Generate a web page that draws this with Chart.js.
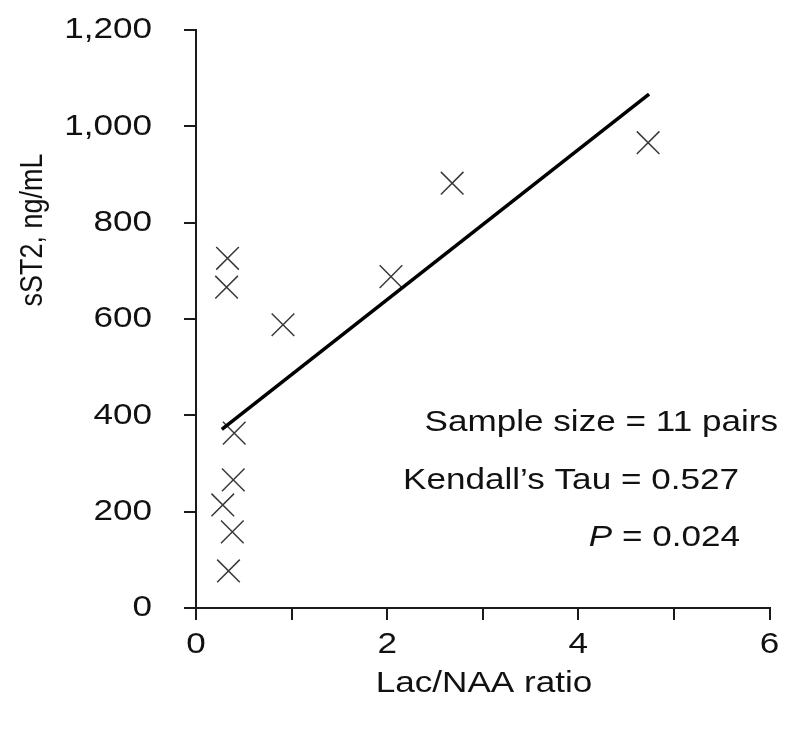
<!DOCTYPE html>
<html>
<head>
<meta charset="utf-8">
<script src="https://cdn.jsdelivr.net/npm/chart.js@4/dist/chart.umd.min.js"></script>
<style>
  html, body { margin: 0; padding: 0; background: #fff; }
  #wrap { width: 787px; height: 729px; }
</style>
</head>
<body>
<div id="wrap"><canvas id="c" width="787" height="729"></canvas></div>
<script>
// ---- data ----
const lacNaaRatio = [0.33, 0.32, 0.91, 2.04, 2.68, 4.73, 0.40, 0.39, 0.28, 0.38, 0.34];
const sST2Values  = [726, 666, 588, 688, 882, 966, 363, 266, 214, 158, 77];
const trendX = [0.27, 4.74];
const trendY = [371, 1067];
const xLabelTicks = [0, 2, 4, 6];
const xTitle = 'Lac/NAA ratio';
const yTitle = 'sST2, ng/mL';
const statLines = ['Sample size = 11 pairs', 'Kendall\u2019s Tau = 0.527'];
const pLabel = 'P';
const pValueText = ' = 0.024';

const FONT = '"Liberation Sans", Arial, Helvetica, sans-serif';
const AX = '#1a1a1a';
const SX = 1.17; // horizontal stretch of the glyphs in the reference

const points = lacNaaRatio.map((x, i) => ({ x: x, y: sST2Values[i] }));
const trend = trendX.map((x, i) => ({ x: x, y: trendY[i] }));

const fmtX = (v) => xLabelTicks.includes(v) ? String(v) : '';
const fmtY = (v) => v.toLocaleString('en-US');

function txt(ctx, s, x, y, align, font) {
  ctx.save();
  ctx.translate(x, y);
  ctx.scale(SX, 1);
  ctx.font = font;
  ctx.textAlign = align;
  ctx.textBaseline = 'middle';
  ctx.fillText(s, 0, 0);
  ctx.restore();
}

const textPlugin = {
  id: 'texts',
  afterDraw(chart) {
    const ctx = chart.ctx;
    const f = '30px ' + FONT;
    ctx.save();
    ctx.fillStyle = '#111';
    // tick labels
    const xs = chart.scales.x, ys = chart.scales.y;
    xs.ticks.forEach(t => {
      const l = fmtX(t.value);
      if (l) txt(ctx, l, xs.getPixelForValue(t.value), 645, 'center', f);
    });
    ys.ticks.forEach(t => {
      txt(ctx, fmtY(t.value), 152, ys.getPixelForValue(t.value), 'right', f);
    });
    // axis titles
    txt(ctx, xTitle, 484, 684, 'center', f);
    ctx.save();
    ctx.translate(33, 230);
    ctx.rotate(-Math.PI / 2);
    ctx.scale(1, SX);
    ctx.font = '27px ' + FONT;
    ctx.textAlign = 'center';
    ctx.textBaseline = 'middle';
    ctx.fillText(yTitle, 0, 0);
    ctx.restore();
    // statistics
    txt(ctx, statLines[0], 778, 423, 'right', f);
    txt(ctx, statLines[1], 739, 481, 'right', f);
    txt(ctx, pValueText, 740, 538, 'right', f);
    ctx.font = f;
    const w = ctx.measureText(pValueText).width * SX;
    txt(ctx, pLabel, 740 - w, 538, 'right', 'italic ' + f);
    ctx.restore();
  }
};

new Chart(document.getElementById('c'), {
  type: 'scatter',
  data: {
    datasets: [
      {
        type: 'line',
        data: trend,
        borderColor: '#000',
        borderWidth: 3.5,
        pointRadius: 0,
        fill: false,
        order: 0
      },
      {
        data: points,
        pointStyle: 'crossRot',
        pointRadius: 16,
        pointHoverRadius: 16,
        borderColor: '#3a3a3a',
        borderWidth: 1.5,
        backgroundColor: '#3a3a3a',
        order: 1
      }
    ]
  },
  options: {
    responsive: false,
    animation: false,
    events: [],
    layout: { padding: { top: 30, right: 7, left: 0, bottom: 0 } },
    plugins: { legend: { display: false }, tooltip: { enabled: false } },
    scales: {
      x: {
        type: 'linear',
        min: 0, max: 6,
        ticks: { stepSize: 1, display: false, callback: fmtX },
        grid: { drawOnChartArea: false, drawTicks: true, tickLength: 12, color: AX, lineWidth: 2 },
        border: { display: true, color: AX, width: 2 },
        afterFit: (s) => { s.height = 121; }
      },
      y: {
        type: 'linear',
        min: 0, max: 1200,
        ticks: { stepSize: 200, display: false, callback: fmtY },
        grid: { drawOnChartArea: false, drawTicks: true, tickLength: 12, color: AX, lineWidth: 2 },
        border: { display: true, color: AX, width: 2 },
        afterFit: (s) => { s.width = 196; }
      }
    }
  },
  plugins: [textPlugin]
});
</script>
</body>
</html>
